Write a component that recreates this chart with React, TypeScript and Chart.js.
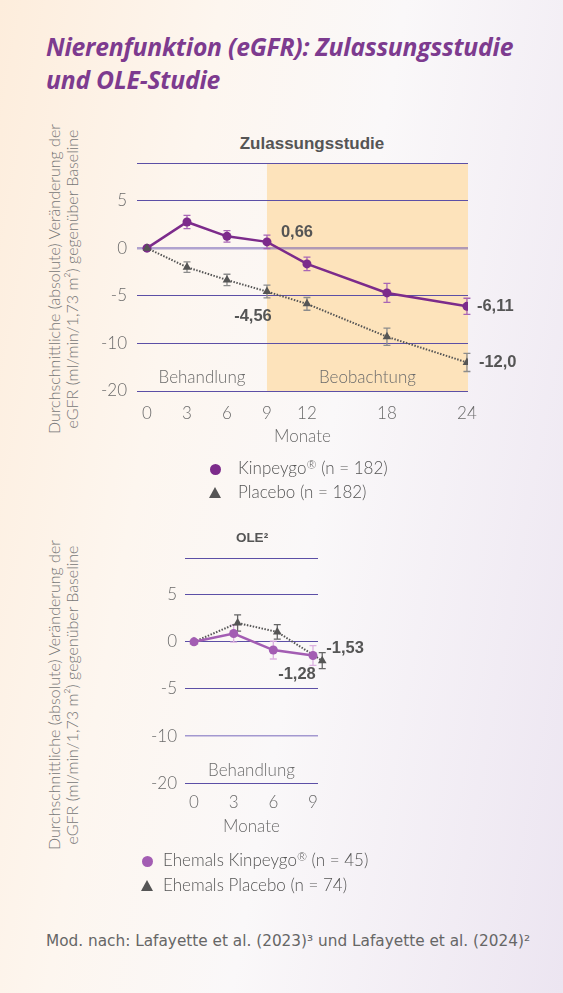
import { useEffect, useRef } from 'react';
import Chart from 'chart.js/auto';

// Zulassungsstudie (Monate 0-24)
const monthsMain = [0, 3, 6, 9, 12, 18, 24];
const kinpeygoMain = [0, 2.75, 1.24, 0.66, -1.65, -4.7, -6.11];
const kinpeygoMainErr = [0, 0.7, 0.6, 0.7, 0.7, 1.0, 0.85];
const placeboMain = [0, -2.0, -3.34, -4.56, -5.85, -9.3, -12.0];
const placeboMainErr = [0, 0.55, 0.6, 0.67, 0.67, 0.9, 0.95];

// OLE (Monate 0-9), Placebo leicht versetzt
const monthsOle = [0, 3, 6, 9];
const monthsOlePlacebo = [0, 3.3, 6.3, 9.7];
const kinpeygoOle = [0, 0.88, -0.87, -1.45];
const kinpeygoOleErr = [0, 0.9, 0.95, 1.05];
const placeboOle = [0, 2.0, 1.05, -2.0];
const placeboOleErr = [0, 0.87, 0.77, 0.85];

// y-Achse mit Bruch: -20 sitzt an der Position von -15
const yTicks = [-15, -10, -5, 0, 5, 8.87];
const yTickLabels = ['-20', '-10', '-5', '0', '5', ''];

const LIGHT = 'Lato, "Open Sans", sans-serif';
const TITLE = '"Open Sans", sans-serif';
const BOLD = '"Liberation Sans", Arial, sans-serif';
const GRID = '#5c4fa6';
const PURPLE = '#7c2b8b';
const PURPLE_LIGHT = '#a35db3';
const GREY = '#555555';
const TEXT = '#6b6b6b';

interface ValueLabel { ds: number; idx: number; dx: number; dy: number; text: string; align: CanvasTextAlign }
interface Region { text: string; from: number | null; to: number | null }
interface ErrorSet { ds: number; values: number[]; color: string }

interface PanelProps {
  top: number;
  height: number;
  padTop: number;
  padRight: number;
  yWidth: number;
  xHeight: number;
  xMin: number;
  xMax: number;
  xTicks: number[];
  xTickPad: number;
  yTickPad: number;
  datasets: any[];
  errors: ErrorSet[];
  labels: ValueLabel[];
  regions: Region[];
  shadeFrom?: number;
  lightLine: number;
  lightColor: string;
  lightWidth: number;
}

function overlays(p: PanelProps) {
  return {
    id: 'overlays',
    beforeDraw(chart: any) {
      if (p.shadeFrom === undefined) return;
      const { ctx, chartArea } = chart;
      const x = chart.scales.x.getPixelForValue(p.shadeFrom);
      ctx.save();
      ctx.fillStyle = '#fde3bb';
      ctx.fillRect(x, chartArea.top, chartArea.right - x, chartArea.bottom - chartArea.top);
      ctx.restore();
    },
    beforeDatasetsDraw(chart: any) {
      const { ctx } = chart;
      const y = chart.scales.y;
      p.errors.forEach((set) => {
        const meta = chart.getDatasetMeta(set.ds);
        const data = chart.data.datasets[set.ds].data;
        ctx.save();
        ctx.strokeStyle = set.color;
        ctx.lineWidth = 1.3;
        meta.data.forEach((pt: any, j: number) => {
          const e = set.values[j];
          if (!e) return;
          const v = data[j].y;
          const y1 = y.getPixelForValue(v + e);
          const y2 = y.getPixelForValue(v - e);
          ctx.beginPath();
          ctx.moveTo(pt.x, y1);
          ctx.lineTo(pt.x, y2);
          ctx.moveTo(pt.x - 3.5, y1);
          ctx.lineTo(pt.x + 3.5, y1);
          ctx.moveTo(pt.x - 3.5, y2);
          ctx.lineTo(pt.x + 3.5, y2);
          ctx.stroke();
        });
        ctx.restore();
      });
    },
    afterDraw(chart: any) {
      const { ctx, chartArea } = chart;
      const x = chart.scales.x;
      ctx.save();
      ctx.textBaseline = 'middle';
      ctx.fillStyle = TEXT;
      ctx.font = `300 17px ${LIGHT}`;
      ctx.textAlign = 'center';
      p.regions.forEach((r) => {
        const l = r.from === null ? chartArea.left : Math.max(chartArea.left, x.getPixelForValue(r.from));
        const rr = r.to === null ? chartArea.right : Math.min(chartArea.right, x.getPixelForValue(r.to));
        ctx.fillText(r.text, (l + rr) / 2, chartArea.bottom - 13);
      });
      ctx.fillStyle = GREY;
      ctx.font = `bold 16.5px ${BOLD}`;
      p.labels.forEach((lb) => {
        const pt = chart.getDatasetMeta(lb.ds).data[lb.idx];
        ctx.textAlign = lb.align;
        ctx.fillText(lb.text, pt.x + lb.dx, pt.y + lb.dy);
      });
      ctx.restore();
    },
  };
}

function Panel(p: PanelProps) {
  const canvasRef = useRef<HTMLCanvasElement | null>(null);

  useEffect(() => {
    if (!canvasRef.current) return;
    const tickFont = { family: LIGHT, size: 17, weight: 300 as any };
    const chart = new Chart(canvasRef.current, {
      type: 'line',
      data: { datasets: p.datasets },
      plugins: [overlays(p)],
      options: {
        animation: false,
        responsive: true,
        maintainAspectRatio: false,
        layout: { padding: { top: p.padTop, right: p.padRight, left: 0, bottom: 0 } },
        plugins: { legend: { display: false }, tooltip: { enabled: false } },
        scales: {
          x: {
            type: 'linear',
            min: p.xMin,
            max: p.xMax,
            afterBuildTicks: (s: any) => { s.ticks = p.xTicks.map((v) => ({ value: v })); },
            afterFit: (s: any) => { s.height = p.xHeight; },
            grid: { display: false },
            border: { display: false },
            ticks: { color: TEXT, font: tickFont, padding: p.xTickPad, maxRotation: 0, autoSkip: false },
            title: { display: true, text: 'Monate', color: TEXT, font: tickFont, padding: { top: 0, bottom: 13 } },
          },
          y: {
            type: 'linear',
            min: -15,
            max: 8.87,
            afterBuildTicks: (s: any) => { s.ticks = yTicks.map((v) => ({ value: v })); },
            afterFit: (s: any) => { s.width = p.yWidth; },
            grid: {
              drawTicks: false,
              color: (c: any) => (c.tick && c.tick.value === p.lightLine ? p.lightColor : GRID),
              lineWidth: (c: any) => (c.tick && c.tick.value === p.lightLine ? p.lightWidth : 1),
            },
            border: { display: false },
            ticks: {
              color: TEXT,
              font: tickFont,
              padding: p.yTickPad,
              callback: (_v: any, i: number) => yTickLabels[i],
            },
          },
        },
      },
    });
    return () => chart.destroy();
  }, []);

  return (
    <div style={{ position: 'absolute', left: 0, top: p.top, width: 563, height: p.height }}>
      <canvas ref={canvasRef} />
    </div>
  );
}

const toPoints = (xs: number[], ys: number[]) => xs.map((x, i) => ({ x, y: ys[i] }));

const placeboStyle = {
  borderColor: GREY,
  backgroundColor: GREY,
  borderWidth: 2,
  borderDash: [1.5, 1.5],
  pointStyle: 'triangle',
  pointRadius: 5,
  pointBorderWidth: 0,
  tension: 0,
};

function YTitle({ centerY }: { centerY: number }) {
  return (
    <div
      style={{
        position: 'absolute',
        left: 63 - 180,
        top: centerY - 18,
        width: 360,
        height: 36,
        transform: 'rotate(-90deg)',
        textAlign: 'center',
        font: `300 16px ${LIGHT}`,
        lineHeight: '18px',
        color: '#777',
        whiteSpace: 'nowrap',
      }}
    >
      <div>Durchschnittliche (absolute) Veränderung der</div>
      <div>eGFR (ml/min/1,73 m²) gegenüber Baseline</div>
    </div>
  );
}

function LegendItem({ x, y, textX, color, triangle, name, n }: { x: number; y: number; textX: number; color: string; triangle?: boolean; name: string; n: string }) {
  return (
    <>
      {triangle ? (
        <div style={{ position: 'absolute', left: x - 6, top: y - 6, width: 0, height: 0, borderLeft: '6px solid transparent', borderRight: '6px solid transparent', borderBottom: `11px solid ${color}` }} />
      ) : (
        <div style={{ position: 'absolute', left: x - 5.5, top: y - 5.5, width: 11, height: 11, borderRadius: '50%', background: color }} />
      )}
      <div style={{ position: 'absolute', left: textX, top: y - 12, lineHeight: '24px', font: `300 17px ${LIGHT}`, color: '#555', whiteSpace: 'nowrap' }}>
        {name}
        {name.includes('Kinpeygo') ? <span style={{ fontSize: '12px', verticalAlign: '5px' }}>®</span> : null} {n}
      </div>
    </>
  );
}

export default function App() {
  const mainDatasets = [
    { ...placeboStyle, data: toPoints(monthsMain, placeboMain) },
    {
      data: toPoints(monthsMain, kinpeygoMain),
      borderColor: PURPLE,
      backgroundColor: PURPLE,
      borderWidth: 2.5,
      pointRadius: 4.5,
      pointBorderWidth: 0,
      tension: 0,
    },
  ];
  const oleDatasets = [
    {
      data: toPoints(monthsOle, kinpeygoOle),
      borderColor: PURPLE_LIGHT,
      backgroundColor: PURPLE_LIGHT,
      borderWidth: 2.5,
      pointRadius: 4.5,
      pointBorderWidth: 0,
      tension: 0,
    },
    { ...placeboStyle, data: toPoints(monthsOlePlacebo, placeboOle), clip: false },
  ];

  return (
    <div
      style={{
        position: 'absolute',
        left: 0,
        top: 0,
        width: 563,
        height: 993,
        overflow: 'hidden',
        background: 'linear-gradient(100deg, #fdeddc 0%, #fdf6ef 30%, #faf8f9 55%, #ece5f1 100%)',
      }}
    >
      <div style={{ position: 'absolute', left: 46, top: 30, font: `italic 700 24.7px ${TITLE}`, lineHeight: '33.3px', color: '#7d3b8f', whiteSpace: 'nowrap', letterSpacing: '-0.2px' }}>
        <div>Nierenfunktion (eGFR): Zulassungsstudie</div>
        <div>und OLE-Studie</div>
      </div>

      <div style={{ position: 'absolute', left: 212, width: 200, top: 134, lineHeight: '22px', textAlign: 'center', font: `bold 17px ${BOLD}`, color: GREY }}>
        Zulassungsstudie
      </div>
      <YTitle centerY={279} />
      <Panel
        top={140}
        height={320}
        padTop={23.7}
        padRight={95}
        yWidth={137}
        xHeight={69}
        xMin={-0.75}
        xMax={24.08}
        xTicks={monthsMain}
        xTickPad={4}
        yTickPad={10}
        datasets={mainDatasets}
        errors={[
          { ds: 0, values: placeboMainErr, color: '#8c8c8c' },
          { ds: 1, values: kinpeygoMainErr, color: '#a866b5' },
        ]}
        labels={[
          { ds: 1, idx: 3, dx: 30, dy: -9, text: '0,66', align: 'center' },
          { ds: 0, idx: 3, dx: -14, dy: 25, text: '-4,56', align: 'center' },
          { ds: 1, idx: 6, dx: 10, dy: 0, text: '-6,11', align: 'left' },
          { ds: 0, idx: 6, dx: 12, dy: 0, text: '-12,0', align: 'left' },
        ]}
        regions={[
          { text: 'Behandlung', from: null, to: 9 },
          { text: 'Beobachtung', from: 9, to: null },
        ]}
        shadeFrom={9}
        lightLine={0}
        lightColor="rgba(100, 80, 175, 0.5)"
        lightWidth={2.5}
      />
      <LegendItem x={215} y={469} textX={238} color={PURPLE} name="Kinpeygo" n="(n = 182)" />
      <LegendItem x={215} y={493} textX={238} color={GREY} triangle name="Placebo" n="(n = 182)" />

      <div style={{ position: 'absolute', left: 152, width: 200, top: 530, lineHeight: '22px', textAlign: 'center', font: `bold 13.5px ${BOLD}`, color: GREY }}>
        OLE²
      </div>
      <YTitle centerY={695} />
      <Panel
        top={540}
        height={310}
        padTop={16}
        padRight={245}
        yWidth={185}
        xHeight={66.7}
        xMin={-0.68}
        xMax={9.38}
        xTicks={monthsOle}
        xTickPad={1}
        yTickPad={8}
        datasets={oleDatasets}
        errors={[
          { ds: 0, values: kinpeygoOleErr, color: '#dcb0e0' },
          { ds: 1, values: placeboOleErr, color: '#666666' },
        ]}
        labels={[
          { ds: 1, idx: 3, dx: 4, dy: -12, text: '-1,53', align: 'left' },
          { ds: 0, idx: 3, dx: -16, dy: 19, text: '-1,28', align: 'center' },
        ]}
        regions={[{ text: 'Behandlung', from: null, to: null }]}
        lightLine={-10}
        lightColor="#a398d0"
        lightWidth={1.5}
      />
      <LegendItem x={147} y={861} textX={163} color={PURPLE_LIGHT} name="Ehemals Kinpeygo" n="(n = 45)" />
      <LegendItem x={147} y={886} textX={163} color={GREY} triangle name="Ehemals Placebo" n="(n = 74)" />

      <div style={{ position: 'absolute', left: 46, top: 932, lineHeight: '24px', font: `15.3px "DejaVu Sans", sans-serif`, color: '#666', whiteSpace: 'nowrap' }}>
        Mod. nach: Lafayette et al. (2023)³ und Lafayette et al. (2024)²
      </div>
    </div>
  );
}
